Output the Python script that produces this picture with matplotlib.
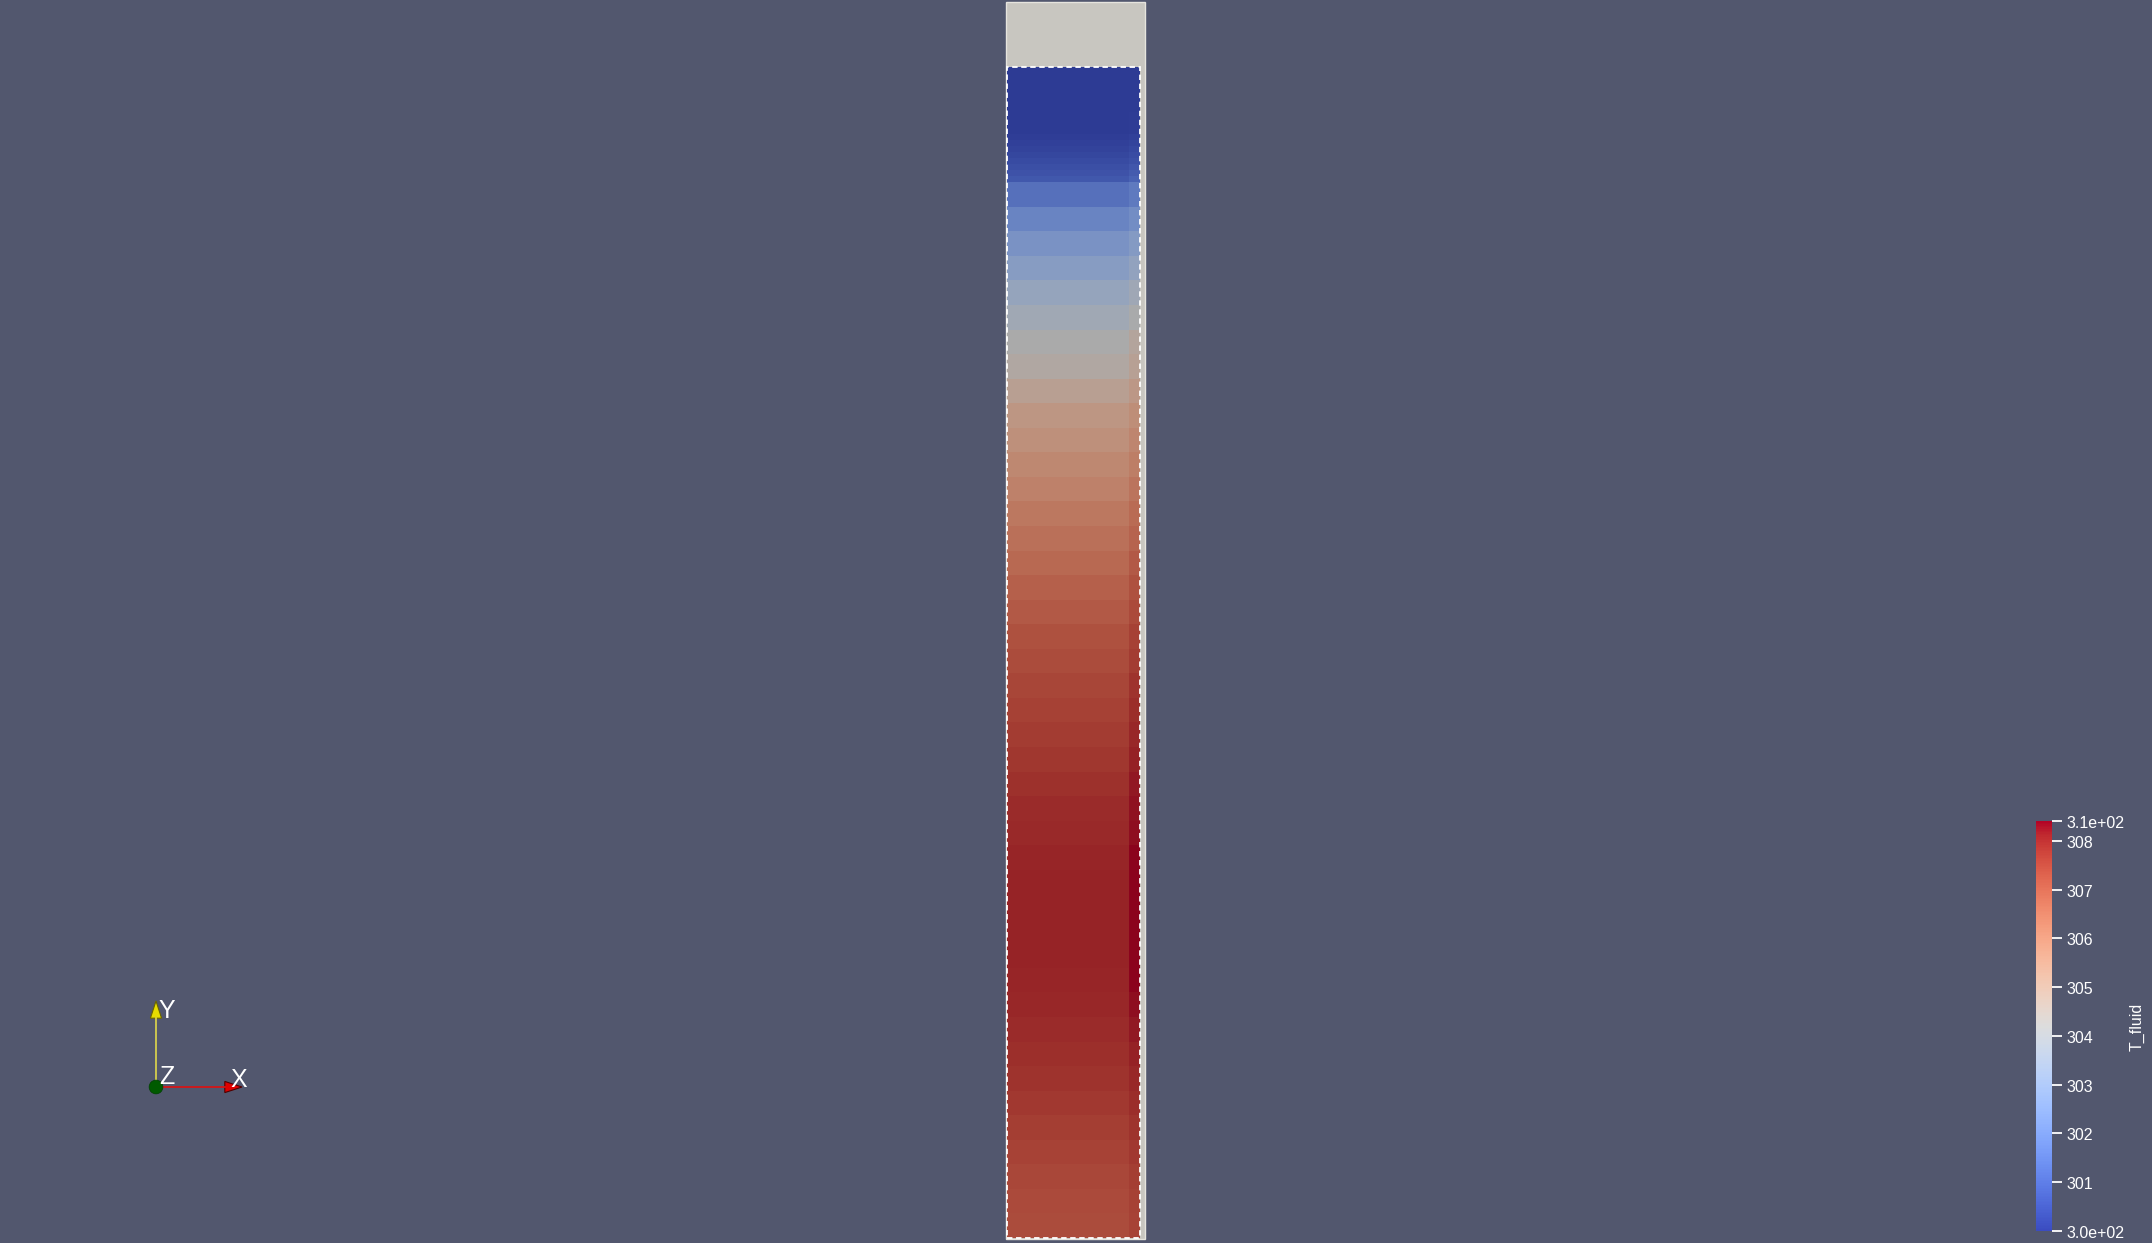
import numpy as np
import matplotlib
matplotlib.use("Agg")
import matplotlib.pyplot as plt
from matplotlib.colors import ListedColormap, Normalize
from matplotlib.cm import ScalarMappable
from matplotlib.patches import Rectangle, Polygon, Circle

plt.rcParams["font.family"] = ["Liberation Sans", "DejaVu Sans"]

# T_fluid range of the scalar bar
t_min = 300.0
t_max = 308.41

# mesh geometry (m): bulk cell column + thin cell column at the right wall
col_widths = [0.0917, 0.0083]
# row heights, top to bottom
row_heights = [0.017] * 3 + [0.0045] * 8 + [0.01846] * 43

# cell temperatures, top to bottom
t_bulk = [300.0, 300.0, 300.02,
          300.08, 300.15, 300.22, 300.3, 300.4, 300.5, 300.62, 300.75,
          301.4, 302.0, 302.5, 302.95, 303.4, 303.8, 304.2, 304.45, 304.9, 305.3,
          305.55, 305.8, 306.0, 306.25, 306.45, 306.65, 306.85, 307.0, 307.2, 307.3,
          307.45, 307.55, 307.65, 307.75, 307.85, 307.92, 307.98,
          308.02, 308.05, 308.07, 308.07, 308.06, 308.04, 308.0, 307.95, 307.88,
          307.8, 307.7, 307.6, 307.5, 307.42, 307.35, 307.3]
t_wall = [300.0, 300.0, 300.05,
          300.15, 300.25, 300.35, 300.45, 300.55, 300.7, 300.85, 301.0,
          301.7, 302.3, 302.85, 303.3, 303.75, 304.15, 304.6, 304.85, 305.25, 305.6,
          305.85, 306.1, 306.35, 306.6, 306.8, 307.0, 307.2, 307.35, 307.55, 307.65,
          307.8, 307.9, 308.0, 308.1, 308.2, 308.25, 308.3,
          308.41, 308.41, 308.41, 308.41, 308.4, 308.38, 308.3, 308.2, 308.1,
          308.0, 307.9, 307.8, 307.7, 307.62, 307.55, 307.5]

# solid block behind the fluid region (m)
solid_x = (-0.001, 0.104)
solid_y = (-0.001, 0.929)

cbar_ticks = [300.0, 301, 302, 303, 304, 305, 306, 307, 308, 308.41]
cbar_labels = ["3.0e+02", "301", "302", "303", "304", "305", "306", "307", "308", "3.1e+02"]

bg = "#52576e"
shade = 0.77

fig = plt.figure(figsize=(21.52, 12.4399), dpi=100, facecolor=bg)
ax = fig.add_axes([0, 0, 1, 1])
ax.set_facecolor(bg)
ax.axis("off")

# view: 1330 px per metre, fluid region lower-left corner at pixel (1007, 1239)
ppm = 1330.0
ax.set_xlim(-1007 / ppm, (2152 - 1007) / ppm)
ax.set_ylim(-(1244 - 1239) / ppm, 1239 / ppm)

# solid block rendered white under the light
ax.add_patch(Rectangle((solid_x[0], solid_y[0]), solid_x[1] - solid_x[0], solid_y[1] - solid_y[0],
                       facecolor="#c8c6c0", edgecolor="#e6e4de", lw=1.0, zorder=1))

height = sum(row_heights)
y_edges = height - np.concatenate([[0], np.cumsum(row_heights)])
x_edges = np.concatenate([[0], np.cumsum(col_widths)])
temps = np.column_stack([t_bulk, t_wall])

base = plt.get_cmap("coolwarm")(np.linspace(0, 1, 256))
base[:, :3] *= shade
lit_cmap = ListedColormap(base)
norm = Normalize(vmin=t_min, vmax=t_max)

ax.pcolormesh(x_edges, y_edges[::-1], temps[::-1], cmap=lit_cmap, norm=norm,
              shading="flat", zorder=2)
ax.add_patch(Rectangle((0, 0), x_edges[-1], height, fill=False, edgecolor="white",
                       lw=1.3, linestyle=(0, (3, 2)), zorder=3))

# scalar bar
cax = fig.add_axes([2036 / 2152, (1244 - 1232) / 1244, 16 / 2152, 410 / 1244])
cb = fig.colorbar(ScalarMappable(norm=norm, cmap="coolwarm"), cax=cax)
cb.outline.set_visible(False)
cb.set_ticks(cbar_ticks, labels=cbar_labels)
cax.tick_params(colors="white", length=7, width=1.3, labelsize=11.5, pad=3.5)
fig.text(2137 / 2152, 1 - 1027 / 1244, "T_fluid", rotation=90, ha="center", va="center",
         color="white", fontsize=11.5)

# orientation axes
tax = fig.add_axes([136 / 2152, (1244 - 1108) / 1244, 120 / 2152, 120 / 1244])
tax.set_xlim(-20 / 86, 100 / 86)
tax.set_ylim(-20 / 86, 100 / 86)
tax.axis("off")
cone_len, cone_w = 0.2, 0.065
tax.plot([0, 0], [0, 1 - cone_len], color="#e0d84a", lw=1.2)
tax.plot([0, 1 - cone_len], [0, 0], color="#e01010", lw=1.2)
tax.add_patch(Polygon([(0, 1), (-cone_w, 1 - cone_len), (cone_w, 1 - cone_len)],
                      facecolor="#e6dc00", edgecolor="#6a6400", lw=0.8))
tax.add_patch(Polygon([(1, 0), (1 - cone_len, cone_w), (1 - cone_len, -cone_w)],
                      facecolor="#e00000", edgecolor="#500000", lw=0.8))
tax.add_patch(Circle((0, 0), 0.08, facecolor="#005a00", edgecolor="#004000", lw=0.5, zorder=3))
tax.text(0.03, 0.9, "Y", color="white", fontsize=18, ha="left", va="center")
tax.text(0.86, 0.09, "X", color="white", fontsize=18, ha="left", va="center")
tax.text(0.04, 0.13, "Z", color="white", fontsize=18, ha="left", va="center")

fig.savefig("out.png", dpi=100, facecolor=bg)
